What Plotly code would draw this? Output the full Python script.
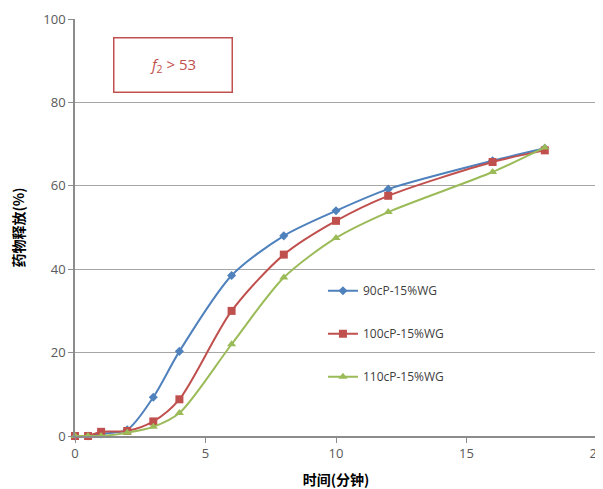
import plotly.graph_objects as go

time_min = [0, 0.5, 1, 2, 3, 4, 6, 8, 10, 12, 16, 18]
s90 = [0, 0, 0.5, 1.5, 9.3, 20.3, 38.5, 48, 54, 59.2, 66, 69]
s100 = [0, 0, 1.0, 1.2, 3.5, 8.8, 30, 43.5, 51.6, 57.6, 65.7, 68.5]
s110 = [0, 0, 0, 0.8, 2.2, 5.5, 22, 38, 47.5, 53.7, 63.3, 69.2]
names = ["90cP-15%WG", "100cP-15%WG", "110cP-15%WG"]
colors = ["#4F81BD", "#C0504D", "#9BBB59"]
symbols = ["diamond", "square", "triangle-up"]
sizes = [7, 8, 8]

fig = go.Figure()
for i, ys in enumerate([s90, s100, s110]):
    fig.add_trace(go.Scatter(
        x=time_min, y=ys, name=names[i], mode="lines+markers",
        line=dict(color=colors[i], width=2, shape="spline", smoothing=0.8),
        marker=dict(symbol=symbols[i], size=sizes[i], color=colors[i]),
        legendgroup=str(i), cliponaxis=False,
    ))

fig.update_layout(
    width=603, height=489,
    margin=dict(l=67, r=14, t=11, b=61),
    paper_bgcolor="white", plot_bgcolor="white",
    font=dict(family="Open Sans, Arial", size=13, color="#595959"),
    legend=dict(x=0.475, y=0.383, xanchor="left", yanchor="top",
                bgcolor="rgba(0,0,0,0)", tracegroupgap=24,
                font=dict(size=12, color="#404040"), itemwidth=30),
    xaxis=dict(range=[0, 20], dtick=5, showgrid=False, showline=True,
               linecolor="#8c8c8c", linewidth=1.5, ticks="outside", ticklen=5,
               tickcolor="#8c8c8c", zeroline=False, automargin=False,
               title=dict(text="时间(分钟)", standoff=14,
                          font=dict(family="Noto Sans CJK SC", size=14, color="#000000", weight="bold"))),
    yaxis=dict(range=[0, 100], dtick=20, showgrid=True, gridcolor="#a6a6a6",
               gridwidth=1, showline=True, linecolor="#8c8c8c", linewidth=1.5,
               ticks="outside", ticklen=5, tickcolor="#8c8c8c", zeroline=False,
               automargin=False,
               title=dict(text="药物释放(%)", standoff=18,
                          font=dict(family="Noto Sans CJK SC", size=14, color="#000000", weight="bold"))),
    showlegend=True,
)

fig.add_annotation(xref="paper", yref="paper",
                   x=(172.5-75)/522, y=(436-65.5)/417,
                   xanchor="center", yanchor="middle",
                   width=117, height=53, borderpad=0,
                   bordercolor="#C0504D", borderwidth=1.5, bgcolor="white",
                   text="<i>f</i><sub>2</sub> > 53", showarrow=False,
                   font=dict(size=15, color="#C0504D"))

fig.write_html("out.html")
